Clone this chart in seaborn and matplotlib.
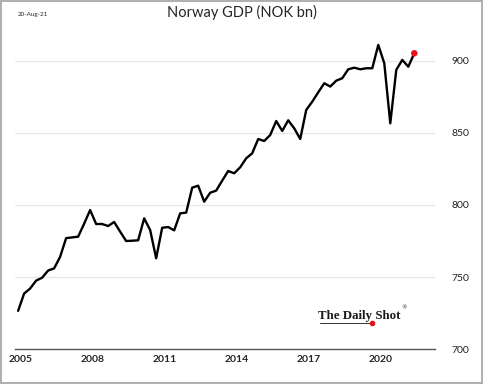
import numpy as np
import pandas as pd
import matplotlib.pyplot as plt
import seaborn as sns

# quarterly Norway GDP, NOK bn (2004Q4 .. 2021Q2)
quarters = pd.period_range('2004Q4', '2021Q2', freq='Q')
gdp = [726.5, 738.5, 742.0, 747.5, 749.5, 754.5, 756.0, 764.0,
       777.0, 777.5, 778.0, 787.0, 796.5, 786.8, 786.8, 785.4,
       788.2, 781.5, 775.0, 775.2, 775.5, 790.7, 782.6, 763.0,
       784.2, 784.7, 782.4, 794.2, 794.7, 812.0, 813.4, 802.3,
       808.5, 810.0, 816.9, 823.6, 822.0, 826.2, 832.4, 835.9,
       845.8, 844.4, 848.6, 858.3, 851.4, 858.8, 853.2, 845.8,
       866.0, 871.7, 878.2, 884.5, 882.2, 886.3, 888.0, 894.2,
       895.3, 894.2, 894.9, 894.9, 911.1, 898.4, 856.7, 893.8,
       900.7, 896.0, 905.3]
year_ticks = [2005, 2008, 2011, 2014, 2017, 2020]
y_ticks = [700, 750, 800, 850, 900]

df = pd.DataFrame({'date': quarters.year + quarters.quarter / 4 - 0.1, 'gdp': gdp})

sns.set_style('white')
plt.rcParams['font.family'] = ['Lato', 'DejaVu Sans']

fig = plt.figure(figsize=(4.83, 3.84), dpi=100, edgecolor='#b0b0b0', linewidth=1.5)
ax = fig.add_axes([0.031, 0.091, 0.870, 0.831])

# gridlines
for v in y_ticks[1:]:
    ax.axhline(v, color='#e8e8e8', lw=1, zorder=0)

sns.lineplot(data=df, x='date', y='gdp', color='black', lw=1.7, ax=ax)
last = df.iloc[[-1]]
sns.scatterplot(data=last, x='date', y='gdp', color='#e8101a', s=22, edgecolor='none', zorder=5, ax=ax)

ax.set_xlim(2004.77, 2022.27)
ax.set_ylim(700, 921.5)
ax.set_xticks(year_ticks)
ax.set_xticklabels([str(y) for y in year_ticks], fontweight='bold', fontsize=7.5)
ax.set_yticks(y_ticks)
ax.set_yticklabels([str(v) for v in y_ticks], fontsize=7.5, color='#222222')
ax.yaxis.tick_right()
ax.tick_params(axis='y', length=0, pad=12)
ax.tick_params(axis='x', direction='inout', length=4, width=0.8, color='#555555', pad=2)
ax.set_xlabel('')
ax.set_ylabel('')
for s in ['top', 'right', 'left']:
    ax.spines[s].set_visible(False)
ax.spines['bottom'].set_color('#555555')
ax.spines['bottom'].set_linewidth(1)

fig.text(0.5, 0.967, 'Norway GDP (NOK bn)', ha='center', va='center', fontsize=10.5)
fig.text(0.037, 0.962, '20-Aug-21', ha='left', va='center', fontsize=4.5)

# logo
logo = fig.text(0.659, 0.178, 'The Daily Shot', ha='left', va='center', fontsize=9.3,
                family='Liberation Serif', fontweight='bold', color='#1a1a1a')
fig.canvas.draw()
bb = logo.get_window_extent().transformed(fig.transFigure.inverted())
fig.text(bb.x1 + 0.001, 0.197, '®', ha='left', va='center', fontsize=4, family='DejaVu Sans')
fig.add_artist(plt.Line2D([0.662, 0.768], [0.160, 0.160], color='#333333', lw=0.7))
fig.add_artist(plt.Line2D([0.770], [0.159], marker='o', color='#e8101a', ms=3, lw=0))

fig.savefig('out.png', dpi=100)
